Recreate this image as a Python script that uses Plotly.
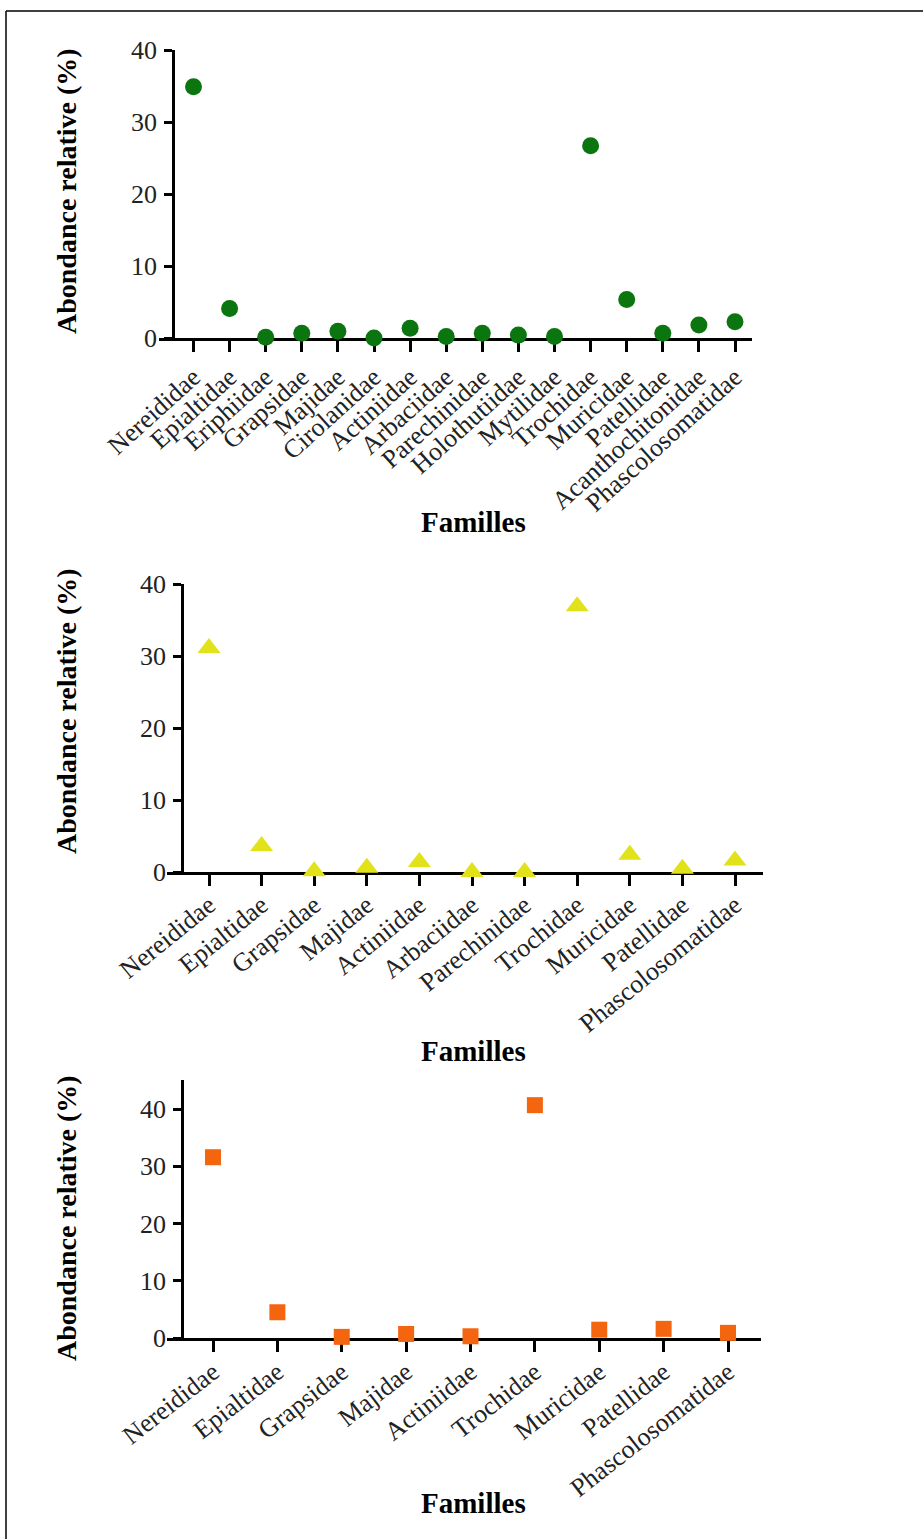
import plotly.graph_objects as go

# ---------------- data ----------------
fam1 = ["Nereididae", "Epialtidae", "Eriphiidae", "Grapsidae", "Majidae", "Cirolanidae",
        "Actiniidae", "Arbaciidae", "Parechinidae", "Holothutiidae", "Mytilidae", "Trochidae",
        "Muricidae", "Patellidae", "Acanthochitonidae", "Phascolosomatidae"]
val1 = [34.9, 4.1, 0.1, 0.65, 0.95, 0.0, 1.35, 0.2, 0.65, 0.4, 0.2, 26.7, 5.35, 0.65, 1.8, 2.25]

fam2 = ["Nereididae", "Epialtidae", "Grapsidae", "Majidae", "Actiniidae", "Arbaciidae",
        "Parechinidae", "Trochidae", "Muricidae", "Patellidae", "Phascolosomatidae"]
val2 = [31.1, 3.6, 0.1, 0.6, 1.4, 0.0, 0.0, 36.9, 2.4, 0.45, 1.6]

fam3 = ["Nereididae", "Epialtidae", "Grapsidae", "Majidae", "Actiniidae", "Trochidae",
        "Muricidae", "Patellidae", "Phascolosomatidae"]
val3 = [31.6, 4.5, 0.2, 0.7, 0.3, 40.7, 1.45, 1.6, 0.9]

yticks12 = [0, 10, 20, 30, 40]
yticks3 = [0, 10, 20, 30, 40]

y_title = "Abondance relative (%)"
x_title = "Familles"

# ---------------- layout helpers ----------------
W, H = 923, 1539
FONT = "Liberation Serif, Times New Roman, serif"


def px(x):
    return x / W


def py(y):
    return 1 - y / H


fig = go.Figure()

panels = [
    # (cats, vals, color, symbol, size, xdom px, y0 px, ytop px, yrange, yaxis pos px,
    #  ytitle center, xtitle y, yticks, tickangle, x label standoff)
    (fam1, val1, "#0b7510", "circle", 17, (159, 752), 338, 50, [0, 40], 173, 191, 522, yticks12, -42, 0),
    (fam2, val2, "#e2e21a", "triangle-up", 20, (167, 763), 872, 584, [0, 40], 182, 711, 1051, yticks12, -39, -6),
    (fam3, val3, "#f4650f", "square", 16, (167, 761), 1338, 1080, [0, 45.1], 182, 1218, 1503, yticks3, -38, -5),
]

annotations = []
for i, (cats, vals, col, sym, msz, xd, y0, ytop, yr, ypos, ytc, xty, ytv, tang, xso) in enumerate(panels, start=1):
    n = len(cats)
    idx = list(range(n))
    first_tick = {1: 193.5, 2: 209, 3: 213}[i]
    last_tick = {1: 735, 2: 735, 3: 728}[i]
    step = (last_tick - first_tick) / (n - 1)
    xr = [(xd[0] - first_tick) / step, (n - 1) + (xd[1] - last_tick) / step]

    xa = "x" if i == 1 else f"x{i}"
    ya = "y" if i == 1 else f"y{i}"
    fig.add_trace(go.Scatter(
        x=idx, y=vals, mode="markers", xaxis=xa, yaxis=ya,
        marker=dict(color=col, symbol=sym, size=msz, line=dict(width=0)),
        cliponaxis=False, showlegend=False, hoverinfo="text",
        text=[f"{c}: {v}" for c, v in zip(cats, vals)],
    ))

    xkey = "xaxis" if i == 1 else f"xaxis{i}"
    ykey = "yaxis" if i == 1 else f"yaxis{i}"
    fig.update_layout(**{
        xkey: dict(
            domain=[px(xd[0]), px(xd[1])], anchor=ya, range=xr, automargin=False,
            tickmode="array", tickvals=idx, ticktext=cats, tickangle=tang,
            ticks="outside", ticklen=11, tickwidth=2.5, tickcolor="black",
            showline=True, linecolor="black", linewidth=2.5,
            showgrid=False, zeroline=False, layer="below traces",
            tickfont=dict(family=FONT, size=26, color="#222"),
            ticklabelstandoff=xso,
        ),
        ykey: dict(
            domain=[py(y0), py(ytop)], anchor="free", position=px(ypos), range=yr,
            automargin=False,
            tickmode="array", tickvals=ytv,
            ticks="outside", ticklen=8, tickwidth=2.5, tickcolor="black",
            showline=True, linecolor="black", linewidth=2.5,
            showgrid=False, zeroline=False, layer="below traces",
            tickfont=dict(family=FONT, size=26, color="#222"),
            ticklabelstandoff=2,
        ),
    })

    annotations.append(dict(
        text=f"<b>{y_title}</b>", x=px(66), y=py(ytc), xref="paper", yref="paper",
        textangle=-90, showarrow=False, xanchor="center", yanchor="middle",
        font=dict(family=FONT, size=28, color="black"),
    ))
    annotations.append(dict(
        text=f"<b>{x_title}</b>", x=px(473), y=py(xty), xref="paper", yref="paper",
        showarrow=False, xanchor="center", yanchor="middle",
        font=dict(family=FONT, size=29, color="black"),
    ))

shapes = [
    dict(type="line", xref="paper", yref="paper", x0=px(6), x1=1.0, y0=py(11), y1=py(11),
         line=dict(color="black", width=1.5)),
    dict(type="line", xref="paper", yref="paper", x0=px(6), x1=px(6), y0=py(11), y1=0,
         line=dict(color="black", width=1.5)),
]

fig.update_layout(
    width=W, height=H,
    margin=dict(l=0, r=0, t=0, b=0, pad=0, autoexpand=False),
    paper_bgcolor="white", plot_bgcolor="white",
    annotations=annotations, shapes=shapes,
    font=dict(family=FONT),
)

fig.write_html(
    "out.html",
    config={"displayModeBar": False},
    post_script="document.body.style.margin='0';document.body.style.overflow='hidden';",
)
